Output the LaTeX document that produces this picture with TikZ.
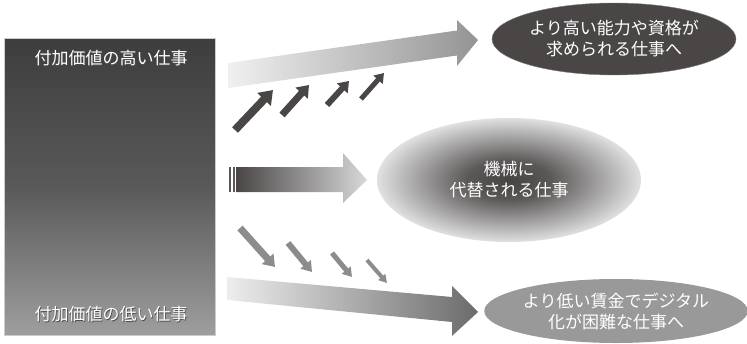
\documentclass[tikz,border=0pt]{standalone}
\usepackage{fontspec}
\newfontfamily\jp{Noto Sans CJK JP}
\usetikzlibrary{arrows.meta,shapes.geometric}
\definecolor{darkg}{HTML}{4A4646}
\definecolor{midg}{HTML}{8C8C8C}
\pgfdeclareradialshading{ellshade}{\pgfpoint{0bp}{0bp}}{color(0bp)=(darkg!95!black); color(8bp)=(darkg!90); color(25bp)=(white!88!black); color(50bp)=(white!88!black)}
\tikzset{
  jptext/.style={font=\jp\fontsize{17}{21}\selectfont, text=white, align=center, inner sep=0pt},
  shadowtext/.style={font=\jp\fontsize{17}{21}\selectfont, text=black!70, align=center, inner sep=0pt},
  uparr/.style={draw=darkg, line cap=butt},
  downarr/.style={draw=midg, line cap=butt},
}
\begin{document}
\begin{tikzpicture}[x=1pt,y=-1pt]
\useasboundingbox (0,0) rectangle (747,343);
% left box
\node[draw=black!20, line width=0.6pt, minimum width=211pt, minimum height=297pt, inner sep=0pt,
  top color=black!76, bottom color=black!38, middle color=black!65, anchor=north west] (box) at (4,38) {};
\node[shadowtext] at (111.8,58.8) {付加価値の高い仕事};
\node[jptext] (hi) at (111,58) {付加価値の高い仕事};
\node[shadowtext] at (111.8,314.8) {付加価値の低い仕事};
\node[jptext] (lo) at (111,314) {付加価値の低い仕事};
% upper big arrow
\path[left color=black!6, right color=black!42]
  (228,63) -- (457,30.5) -- (457,20) -- (478,40) -- (457,66) -- (457,55.5) -- (228,88) -- cycle;
% lower big arrow
\path[left color=black!7, right color=black!58]
  (227,277) -- (452,297) -- (452,286) -- (478,312) -- (452,336) -- (452,322) -- (227,300) -- cycle;
% middle arrow
\fill[darkg!90] (229,167) rectangle (231,192);
\fill[darkg!90] (232.5,167) rectangle (234.5,192);
\path[left color=darkg, right color=black!15]
  (236,167) -- (343,167) -- (343,153) -- (367,180) -- (343,203) -- (343,192) -- (236,192) -- cycle;
% ellipses
\node[ellipse, minimum width=264pt, minimum height=124pt, shading=ellshade, jptext] (mach) at (509,180) {機械に\\代替される仕事};
\node[ellipse, minimum width=244pt, minimum height=72pt, fill=darkg, draw=black!50, line width=0.4pt, jptext] (up) at (614,39) {より高い能力や資格が\\求められる仕事へ};
\node[ellipse, minimum width=248pt, minimum height=64pt, fill=black!40, jptext] (down) at (616,311) {より低い賃金でデジタル\\化が困難な仕事へ};
% small up arrows
\coordinate (u1s) at (235,130); \coordinate (u1e) at (273,90);
\coordinate (u2s) at (282,115); \coordinate (u2e) at (309,85);
\coordinate (u3s) at (327,105); \coordinate (u3e) at (349,81);
\coordinate (u4s) at (361,99);  \coordinate (u4e) at (384,73);
\draw[uparr, line width=8pt, -{Triangle[width=18pt,length=13pt]}] (u1s) -- (u1e);
\draw[uparr, line width=7pt, -{Triangle[width=16pt,length=11pt]}] (u2s) -- (u2e);
\draw[uparr, line width=6pt, -{Triangle[width=14pt,length=10pt]}] (u3s) -- (u3e);
\draw[uparr, line width=5pt, -{Triangle[width=12pt,length=9pt]}] (u4s) -- (u4e);
% small down arrows
\coordinate (d1s) at (240,228); \coordinate (d1e) at (275,267);
\coordinate (d2s) at (288,243); \coordinate (d2e) at (312,272);
\coordinate (d3s) at (332,253); \coordinate (d3e) at (352,277);
\coordinate (d4s) at (367,260); \coordinate (d4e) at (387,283);
\draw[downarr, line width=7pt, -{Triangle[width=15pt,length=11pt]}] (d1s) -- (d1e);
\draw[downarr, line width=6pt, -{Triangle[width=13pt,length=10pt]}] (d2s) -- (d2e);
\draw[downarr, line width=5pt, -{Triangle[width=11pt,length=9pt]}] (d3s) -- (d3e);
\draw[downarr, line width=4pt, -{Triangle[width=9pt,length=8pt]}] (d4s) -- (d4e);
\end{tikzpicture}
\end{document}
